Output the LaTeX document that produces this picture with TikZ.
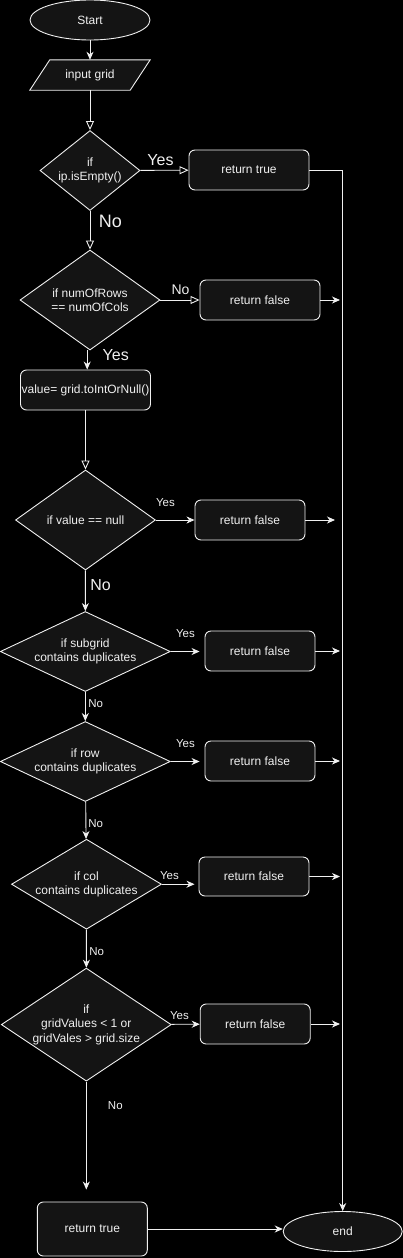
\documentclass[tikz,border=0pt]{standalone}
\usepackage{fontspec}
\setmainfont{Liberation Sans}
\usetikzlibrary{shapes.geometric,arrows.meta,backgrounds,calc}
\definecolor{fg}{RGB}{240,240,240}
\definecolor{shp}{RGB}{20,20,20}
\begin{document}
\begin{tikzpicture}[x=1pt,y=-1pt,
  every node/.style={text=fg, font=\fontsize{12}{14.5}\selectfont},
  base/.style={draw=fg, fill=shp, line width=0.9pt},
  proc/.style={base, rectangle, rounded corners=6pt, minimum height=40pt, align=center, inner sep=0pt},
  dec/.style={base, diamond, align=center, inner sep=0pt},
  term/.style={base, ellipse, minimum width=120pt, minimum height=40pt, inner sep=0pt},
  conn/.style={draw=fg, line width=0.9pt},
  farrow/.style={conn, -{Stealth[length=8pt,width=7pt,inset=2.5pt]}},
  oarrow/.style={conn, -{Triangle[open,length=9pt,width=8pt]}},
  lbl/.style={inner sep=0pt, text=fg},
  lblxl/.style={lbl, font=\fontsize{18}{20}\selectfont},
  lblbig/.style={lbl, font=\fontsize{16}{18}\selectfont},
  lblmid/.style={lbl, font=\fontsize{14}{16}\selectfont},
  lblsm/.style={lbl, font=\fontsize{11.5}{13}\selectfont}
]
\begin{scope}[on background layer]
\fill[black] (0,0) rectangle (403,1258);
\end{scope}
\path[use as bounding box] (0,0) rectangle (403,1258);

% nodes
\node[term] (start) at (90,20) {Start};
\node[inner sep=0pt, minimum width=100pt, minimum height=30pt] (input) at (90,75) {input grid};
\node[dec, minimum width=100pt, minimum height=80pt, shape aspect=1.25] (d1) at (90,170.5) {if\\ip.isEmpty()};
\node[proc, minimum width=120pt] (rt1) at (249,170) {return true};
\node[dec, minimum width=140pt, minimum height=100pt, shape aspect=1.4] (d2) at (90,300) {if numOfRows\\== numOfCols};
\node[proc, minimum width=120pt] (rf1) at (260,300) {return false};
\node[proc, minimum width=130pt] (val) at (85.5,390) {value= grid.toIntOrNull()};
\node[dec, minimum width=140pt, minimum height=100pt, shape aspect=1.4] (d3) at (85.5,520) {if value == null};
\node[proc, minimum width=110pt] (rf2) at (250,520) {return false};
\node[dec, minimum width=170pt, minimum height=80pt, shape aspect=2.125] (d4) at (85.3,651.5) {if subgrid\\contains duplicates};
\node[proc, minimum width=110pt] (rf3) at (260,651) {return false};
\node[dec, minimum width=170pt, minimum height=80pt, shape aspect=2.125] (d5) at (85.3,761.5) {if row\\contains duplicates};
\node[proc, minimum width=110pt] (rf4) at (260,761) {return false};
\node[dec, minimum width=150pt, minimum height=90pt, shape aspect=1.667] (d6) at (86.5,884.2) {if col\\contains duplicates};
\node[proc, minimum width=110pt, minimum height=39pt] (rf5) at (254,876.5) {return false};
\node[dec, minimum width=170pt, minimum height=113pt, shape aspect=1.504] (d7) at (86.3,1024.6) {if\\gridValues < 1 or\\gridVales > grid.size};
\node[proc, minimum width=110pt] (rf6) at (255.2,1024) {return false};
\node[proc, minimum width=110pt, minimum height=54pt] (rt2) at (92.3,1229) {return true};
\node[term, minimum width=119pt] (endn) at (342.7,1231.5) {end};

% parallelogram outline of the input node
\begin{scope}[on background layer]
\draw[base] ([xshift=-10pt]input.south west) -- ([xshift=10pt]input.north west)
  -- ([xshift=10pt]input.north east) -- ([xshift=-10pt]input.south east) -- cycle;
\end{scope}

% free ends
\coordinate (e1) at (340,300);
\coordinate (e2) at (335,520);
\coordinate (e3) at (340,651);
\coordinate (e4) at (340,761);
\coordinate (e5) at (340,876.5);
\coordinate (e6) at (340,1024);

% connectors
\draw[farrow] (start) -- (input);
\draw[oarrow] (input) -- (d1);
\draw[oarrow] (d1) -- (rt1);
\draw[oarrow] (d1) -- (d2);
\draw[oarrow] (d2) -- (rf1);
\draw[farrow] (rf1) -- (e1);
\draw[farrow] ([xshift=-2.8pt]d2.south) -- ([xshift=1.7pt]val.north);
\draw[oarrow] (val) -- (d3);
\draw[farrow] (d3) -- (rf2);
\draw[farrow] (rf2) -- (e2);
\draw[farrow] (d3) -- (d4);
\draw[farrow, shorten >=5pt] (d4) -- (d4 -| rf3.west);
\draw[farrow] (rf3) -- (e3);
\draw[farrow] (d4) -- (d5);
\draw[farrow, shorten >=5pt] (d5) -- (d5 -| rf4.west);
\draw[farrow] (rf4) -- (e4);
\draw[farrow] (d5) -- (d6);
\draw[farrow, shorten >=4pt] (d6.east) -- (d6.east -| rf5.west);
\draw[farrow] (rf5) -- (e5);
\draw[farrow] (d6) -- (d7);
\draw[farrow] (d7) -- (rf6);
\draw[farrow] (rf6) -- (e6);
\draw[farrow, shorten >=12pt] (d7.south) -- (d7.south |- rt2.north);
\draw[farrow] (rt2.east) -- (rt2.east -| endn.west);
\draw[farrow] (rt1.east) -| (endn.north);

% labels
\node[lblbig] (l1) at (160.5,160) {Yes};
\node[lblxl] (l2) at (110.5,221.5) {No};
\node[lblmid] (l3) at (180.5,290) {No};
\node[lblbig] (l4) at (115.7,355) {Yes};
\node[lblsm] (l5) at (165.5,502.5) {Yes};
\node[lblbig] (l6) at (100.5,585) {No};
\node[lblsm] (l7) at (185.5,634) {Yes};
\node[lblsm] (l8) at (95.7,704) {No};
\node[lblsm] (l9) at (185.5,744) {Yes};
\node[lblsm] (l10) at (95.7,824) {No};
\node[lblsm] (l11) at (169.5,876) {Yes};
\node[lblsm] (l12) at (96.7,952) {No};
\node[lblsm] (l13) at (179.5,1016) {Yes};
\node[lblsm] (l14) at (115.3,1106) {No};
\end{tikzpicture}
\end{document}
